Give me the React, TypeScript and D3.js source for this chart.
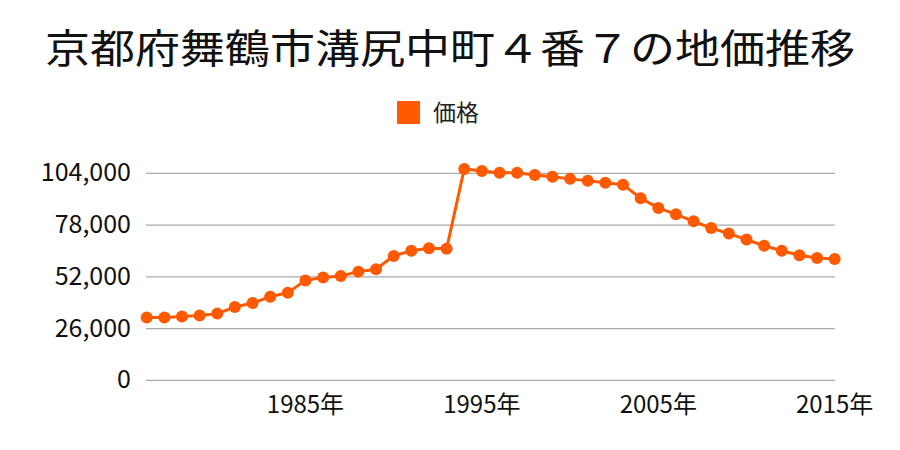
import React from "react";
import * as d3 from "d3";

const title = "京都府舞鶴市溝尻中町４番７の地価推移";
const seriesName = "価格";
const years = d3.range(1976, 2016);
const prices = [
  31500, 31500, 32000, 32500, 33500, 36800, 38800, 42000, 44000, 50200,
  51600, 52400, 54600, 55800, 62500, 65100, 66300, 66100, 106200, 105200,
  104300, 104300, 103200, 102300, 101200, 100200, 99200, 98300, 91500, 86600,
  83400, 79900, 76500, 73700, 70700, 67600, 65100, 62800, 61500, 61000,
];
const yTicks = [0, 26000, 52000, 78000, 104000];
const xTickYears = [1985, 1995, 2005, 2015];

const W = 900;
const H = 450;
const FONT = "'Noto Sans CJK JP', 'Noto Sans', sans-serif";
const COLOR = "#ff5a00";

export default function App() {
  const x = d3.scaleLinear().domain([1976, 2015]).range([146.7, 834.7]);
  const y = d3.scaleLinear().domain([0, 104000]).range([380.3, 173.3]);
  const data = years.map((yr, i) => ({ yr, v: prices[i] }));
  const line = d3
    .line<{ yr: number; v: number }>()
    .x((d) => x(d.yr))
    .y((d) => y(d.v));
  const fmt = d3.format(",");

  return (
    <svg
      width={W}
      height={H}
      style={{ position: "absolute", left: 0, top: 0, background: "#fff" }}
      fontFamily={FONT}
    >
      <text
        x={450}
        y={63}
        textAnchor="middle"
        fontSize={40}
        textLength={810}
        lengthAdjust="spacingAndGlyphs"
        fill="#111"
      >
        {title}
      </text>
      <rect x={397} y={101} width={23} height={23} fill={COLOR} />
      <text x={433} y={121} fontSize={23} fill="#222">
        {seriesName}
      </text>
      {yTicks.map((t) => (
        <g key={t}>
          <line
            x1={146}
            x2={835}
            y1={y(t)}
            y2={y(t)}
            stroke="#aaa"
            strokeWidth={1.2}
          />
          <text
            x={131}
            y={y(t) + 8}
            textAnchor="end"
            fontSize={25}
            fill="#111"
          >
            {fmt(t)}
          </text>
        </g>
      ))}
      {xTickYears.map((t) => (
        <text
          key={t}
          x={x(t)}
          y={413}
          textAnchor="middle"
          fontSize={24}
          fill="#111"
        >
          {t + "年"}
        </text>
      ))}
      <path d={line(data) || ""} fill="none" stroke={COLOR} strokeWidth={3} />
      {data.map((d) => (
        <circle key={d.yr} cx={x(d.yr)} cy={y(d.v)} r={6} fill={COLOR} />
      ))}
    </svg>
  );
}
